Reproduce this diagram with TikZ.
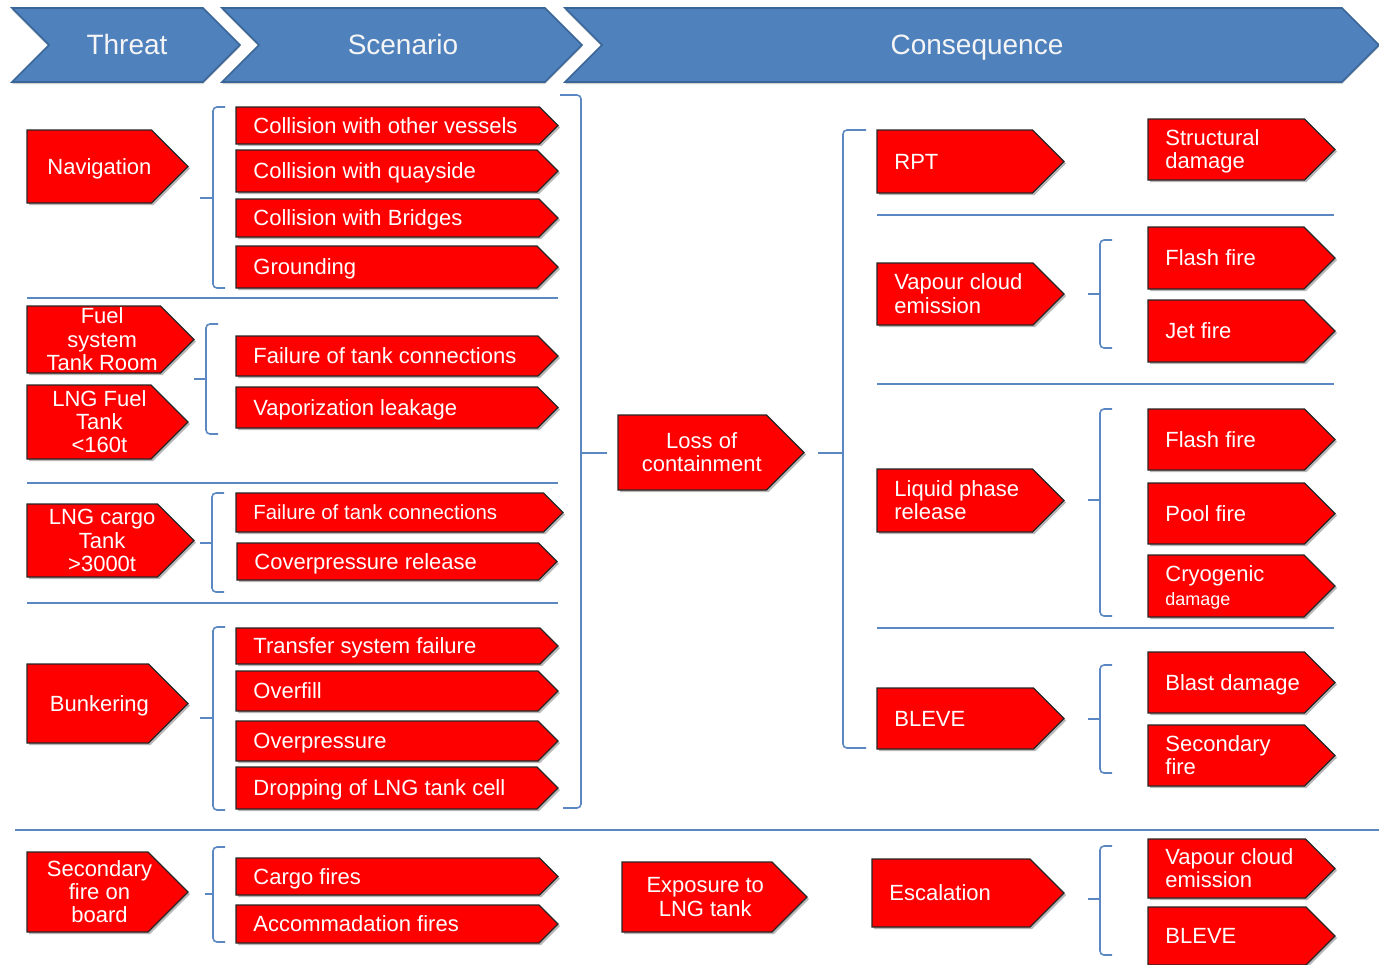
\documentclass[tikz,border=0pt]{standalone}
\usepackage{fontspec}
\setmainfont{Liberation Sans}
\usetikzlibrary{calc}
\definecolor{hdr}{HTML}{4F81BD}
\definecolor{hdrborder}{HTML}{3A6597}
\definecolor{lnblue}{HTML}{5B87C2}
\definecolor{boxred}{HTML}{FF0000}
\tikzset{
 redshape/.style={fill=boxred, draw=black!85, line width=0.6pt, line join=miter},
 shadowshape/.style={fill=black!28},
 boxtxt/.style={text=white, font=\fontsize{11}{11.6}\selectfont, inner sep=0pt},
 ctxt/.style={boxtxt, align=center},
 ltxt/.style={boxtxt, align=left, anchor=west},
 sepline/.style={draw=lnblue, line width=1pt},
 brk/.style={draw=lnblue, line width=0.8pt, rounded corners=2pt},
 hdrshape/.style={fill=hdr, draw=hdrborder, line width=0.8pt},
 hdrtxt/.style={text=white!96!black, font=\fontsize{14}{16}\selectfont, inner sep=0pt},
}
% one text line, sized by the cap height only
\newcommand\tl[1]{\rule{0pt}{\fontcharht\font`\X}\smash{#1}}
\newcommand\redsig[4]{%
 \pgfmathsetmacro\rsH{(#4-#2)/2}%
 \pgfmathsetmacro\rsX{#3-\rsH}%
 \pgfmathsetmacro\rsY{(#2+#4)/2}%
 \fill[shadowshape] ({#1+2},{#2+2}) -- ({\rsX+2},{#2+2}) -- ({#3+2},{\rsY+2}) -- ({\rsX+2},{#4+2}) -- ({#1+2},{#4+2}) -- cycle;
 \path[redshape] (#1,#2) -- (\rsX,#2) -- (#3,\rsY) -- (\rsX,#4) -- (#1,#4) -- cycle;
}
\newcommand\cbox[7]{%
 \redsig{#2}{#3}{#4}{#5}
 \node[ctxt,#6] (#1) at ({#2+(#4-#2)*0.45},{(#3+#5)/2}) {#7};
}
\newcommand\lbox[7]{%
 \redsig{#2}{#3}{#4}{#5}
 \node[ltxt,#6] (#1) at ({#2+17},{(#3+#5)/2}) {#7};
}
\newcommand\chev[2]{%
 \fill[black!18] (#1,10) -- ({#2-37},10) -- (#2,47) -- ({#2-37},84) -- (#1,84) -- ({#1+37},47) -- cycle;
 \path[hdrshape] (#1,8) -- ({#2-37},8) -- (#2,45) -- ({#2-37},82) -- (#1,82) -- ({#1+37},45) -- cycle;
}
\newcommand\lbrk[5]{%
 \draw[brk] ({#1+12},#2) -- (#1,#2) -- (#1,#3) -- ({#1+12},#3);
 \draw[brk] (#1,#4) -- (#5,#4);
}
\begin{document}
\begin{tikzpicture}[x=0.5pt,y=-0.5pt]
\useasboundingbox (0,0) rectangle (1379,964);
% header
\chev{12}{240}
\chev{222}{582}
\chev{565}{1379}
\node[hdrtxt] (hthreat) at (127,45) {\tl{Threat}};
\node[hdrtxt] (hscen) at (403,45) {\tl{Scenario}};
\node[hdrtxt] (hcons) at (977,45) {\tl{Consequence}};
% separators
\draw[sepline] (27,298) -- (558,298);
\draw[sepline] (27,483) -- (558,483);
\draw[sepline] (27,603) -- (558,603);
\draw[sepline] (15,830) -- (1379,830);
\draw[sepline] (877,215) -- (1334,215);
\draw[sepline] (877,384) -- (1334,384);
\draw[sepline] (877,628) -- (1334,628);
% brackets
\lbrk{213}{107}{288}{198}{200}
\lbrk{206}{324}{434}{379}{194}
\lbrk{212}{493}{592}{543}{200}
\lbrk{213}{627}{810}{718}{200}
\lbrk{213}{847}{942}{894}{205}
\lbrk{1100}{240}{348}{294}{1088}
\lbrk{1100}{409}{616}{500}{1088}
\lbrk{1100}{665}{773}{719}{1088}
\lbrk{1100}{846}{955}{899}{1088}
\draw[brk] (560,95) -- (581,95) -- (581,808) -- (563,808);
\draw[brk] (581,453) -- (607,453);
\draw[brk] (866,130) -- (843,130) -- (843,748) -- (866,748);
\draw[brk] (843,453) -- (818,453);
% threats
\cbox{nav}{27}{130}{188}{203}{}{\tl{Navigation}}
\cbox{fuel}{27}{306}{194}{373}{}{\tl{Fuel}\\\tl{system}\\\tl{Tank Room}}
\cbox{lngfuel}{27}{385}{188}{459}{}{\tl{LNG Fuel}\\\tl{Tank}\\\tl{<160t}}
\cbox{cargo}{27}{504}{194}{577}{}{\tl{LNG cargo}\\\tl{Tank}\\\tl{>3000t}}
\cbox{bunk}{27}{664}{188}{743}{}{\tl{Bunkering}}
\cbox{secfire}{27}{852}{188}{932}{}{\tl{Secondary}\\\tl{fire on}\\\tl{board}}
\cbox{loc}{618}{415}{804}{490}{}{\tl{Loss of}\\\tl{containment}}
\cbox{expo}{622}{862}{807}{932}{}{\tl{Exposure to}\\\tl{LNG tank}}
% scenarios
\lbox{s1}{236}{107}{558}{144}{}{\tl{Collision with other vessels}}
\lbox{s2}{236}{150}{558}{192}{}{\tl{Collision with quayside}}
\lbox{s3}{236}{199}{558}{237}{}{\tl{Collision with Bridges}}
\lbox{s4}{236}{246}{558}{288}{}{\tl{Grounding}}
\lbox{s5}{236}{336}{558}{376}{}{\tl{Failure of tank connections}}
\lbox{s6}{236}{387}{558}{428}{}{\tl{Vaporization leakage}}
\lbox{s7}{236}{493}{563}{532}{font=\fontsize{10.2}{11}\selectfont}{\tl{Failure of tank connections}}
\lbox{s8}{237}{543}{557}{580}{}{\tl{Coverpressure release}}
\lbox{s9}{236}{628}{558}{664}{}{\tl{Transfer system failure}}
\lbox{s10}{236}{671}{558}{711}{}{\tl{Overfill}}
\lbox{s11}{236}{721}{558}{761}{}{\tl{Overpressure}}
\lbox{s12}{236}{767}{558}{809}{}{\tl{Dropping of LNG tank cell}}
\lbox{s13}{236}{858}{558}{895}{}{\tl{Cargo fires}}
\lbox{s14}{236}{905}{558}{943}{}{\tl{Accommadation fires}}
% consequences
\lbox{rpt}{877}{130}{1064}{193}{}{\tl{RPT}}
\lbox{vce}{877}{263}{1064}{325}{}{\tl{Vapour cloud}\\\tl{emission}}
\lbox{lpr}{877}{469}{1064}{532}{}{\tl{Liquid phase}\\\tl{release}}
\lbox{bleve}{877}{688}{1064}{749}{}{\tl{BLEVE}}
\lbox{esc}{872}{859}{1064}{927}{}{\tl{Escalation}}
\lbox{struct}{1148}{119}{1335}{180}{}{\tl{Structural}\\\tl{damage}}
\lbox{ff1}{1148}{227}{1335}{289}{}{\tl{Flash fire}}
\lbox{jet}{1148}{300}{1335}{362}{}{\tl{Jet fire}}
\lbox{ff2}{1148}{409}{1335}{470}{}{\tl{Flash fire}}
\lbox{pool}{1148}{483}{1335}{544}{}{\tl{Pool fire}}
\lbox{cryo}{1148}{555}{1335}{617}{}{\tl{Cryogenic}\\{\fontsize{9}{10}\selectfont\tl{damage}}}
\lbox{blast}{1148}{652}{1335}{713}{}{\tl{Blast damage}}
\lbox{secf}{1148}{725}{1335}{786}{}{\tl{Secondary}\\\tl{fire}}
\lbox{vce2}{1148}{839}{1335}{898}{}{\tl{Vapour cloud}\\\tl{emission}}
\lbox{bleve2}{1148}{907}{1335}{965}{}{\tl{BLEVE}}
\end{tikzpicture}
\end{document}
